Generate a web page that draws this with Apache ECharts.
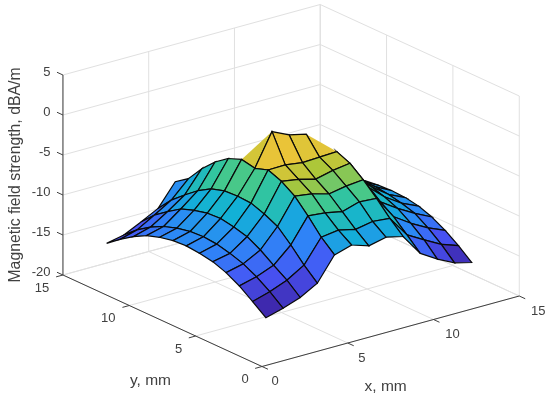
<!DOCTYPE html>
<html>
<head>
<meta charset="utf-8">
<style>html,body{margin:0;padding:0;background:#fff}#chart{width:550px;height:398px}</style>
<script src="https://cdn.jsdelivr.net/npm/echarts@6/dist/echarts.min.js"></script>
</head>
<body>
<div id="chart"></div>
<script>
// Data
var xValues = [1,2,3,4,5,6,7,8,9,10,11,12,13];
var yValues = [1,2,3,4,5,6,7,8,9,10,11,12,13];
var zAtX1  = [-15.25,-14.0,-12.8,-11.9,-11.3,-11.0,-10.85,-10.95,-11.3,-11.85,-12.75,-13.85,-15.1];
var zAtX2  = [-14.65,-13.35,-12.25,-11.4,-10.85,-10.45,-10.3,-10.4,-10.75,-11.3,-12.15,-13.25,-14.65];
var zAtX3  = [-13.9,-12.5,-11.4,-10.25,-9.35,-8.9,-8.6,-8.7,-9.1,-9.7,-10.8,-12.0,-13.6];
var zAtX4  = [-12.7,-11.2,-9.45,-7.9,-7.1,-6.5,-6.4,-6.5,-7.0,-8.0,-9.3,-10.7,-12.5];
var zAtX5  = [-9.75,-8.3,-6.4,-4.7,-3.6,-2.95,-3.5,-3.15,-3.8,-5.0,-6.6,-8.6,-9.75];
var zAtX6  = [-9.1,-8.0,-6.6,-5.0,-3.95,-2.9,0.5,null,null,null,null,null,null];
var zAtX7  = [-9.8,-8.5,-7.05,-5.6,-4.5,-3.2,-0.5,null,null,null,null,null,null];
var zAtX8  = [-9.3,-8.1,-6.4,-5.2,-4.0,-3.1,-1.0,null,null,null,null,null,null];
var zAtX9  = [-9.8,-8.3,-6.55,-5.0,-3.7,-3.0,null,null,null,null,null,null,null];
var zAtX10 = [-12.5,-10.95,-9.45,-8.35,-7.2,-6.7,-7.0,-7.2,-7.8,-8.6,-9.6,-11.1,-13.0];
var zAtX11 = [-13.8,-12.15,-10.85,-9.75,-9.05,-8.55,-8.4,-8.5,-9.0,-10.0,-11.0,-12.3,-14.0];
var zAtX12 = [-14.85,-13.3,-12.0,-10.95,-10.45,-10.1,-9.9,-10.0,-10.3,-10.9,-11.7,-13.0,-14.5];
var zAtX13 = [-15.4,-14.05,-12.9,-12.0,-11.4,-11.1,-11.0,-11.1,-11.3,-11.8,-12.7,-13.8,-15.1];
var zRows = [zAtX1,zAtX2,zAtX3,zAtX4,zAtX5,zAtX6,zAtX7,zAtX8,zAtX9,zAtX10,zAtX11,zAtX12,zAtX13];
var xTicks = [0,5,10,15];
var yTicks = [0,5,10,15];
var zTicks = [-20,-15,-10,-5,0,5];
var xTitle = 'x, mm';
var yTitle = 'y, mm';
var zTitle = 'Magnetic field strength, dBA/m';

// Oblique view of the box, expressed in the two hidden cartesian axes
var X_MAX = 15, Y_MAX = 15, Z_MIN = -20, Z_MAX = 5;
function planeU(x, y) { return 17.15 * x - 13.27 * y; }
function planeV(x, y, z) { return 4.7 * x + 6.1 * y + 8 * (z - Z_MIN); }

var parula = [[0.2422,0.1504,0.6603],[0.2810,0.3228,0.9578],[0.1786,0.5289,0.9682],[0.0689,0.6948,0.8394],
              [0.2161,0.7843,0.5923],[0.6720,0.7793,0.2227],[0.9970,0.7659,0.2199],[0.9769,0.9839,0.0805]];
var allZ = [].concat.apply([], zRows).filter(function (v) { return v !== null; });
var zLo = Math.min.apply(null, allZ), zHi = -0.2;
function faceColor(z) {
  var t = Math.max(0, Math.min(1, (z - zLo) / (zHi - zLo))) * (parula.length - 1);
  var k = Math.min(parula.length - 2, Math.floor(t)), f = t - k;
  var a = parula[k], b = parula[k + 1];
  return 'rgb(' + [0,1,2].map(function (c) { return Math.round(255 * (a[c] + (b[c] - a[c]) * f)); }).join(',') + ')';
}

// Faces back to front
var faces = [];
for (var i = xValues.length - 2; i >= 0; i--) {
  for (var j = yValues.length - 2; j >= 0; j--) {
    faces.push([i, j]);
  }
}

// Box lines: [x0,y0,z0,x1,y1,z1]
var wallLines = [];
xTicks.forEach(function (t) {
  wallLines.push([t, 0, Z_MIN, t, Y_MAX, Z_MIN]);
  wallLines.push([t, Y_MAX, Z_MIN, t, Y_MAX, Z_MAX]);
});
yTicks.forEach(function (t) {
  wallLines.push([0, t, Z_MIN, X_MAX, t, Z_MIN]);
  wallLines.push([X_MAX, t, Z_MIN, X_MAX, t, Z_MAX]);
});
zTicks.forEach(function (t) {
  wallLines.push([0, Y_MAX, t, X_MAX, Y_MAX, t]);
  wallLines.push([X_MAX, Y_MAX, t, X_MAX, 0, t]);
});

function pt(api, x, y, z) { return api.coord([planeU(x, y), planeV(x, y, z)]); }

var FONT = '"Liberation Sans", Arial, sans-serif';
var INK = '#404040';
var EDGE = '#0a0a0a';
function label(text, x, y, size, align, rotation) {
  return { type: 'text', x: x, y: y, rotation: rotation || 0, silent: true,
    style: { text: text, fill: INK, font: size + 'px ' + FONT, align: align || 'center', verticalAlign: 'middle' } };
}
function seg(a, b, color, w) {
  return { type: 'line', silent: true, shape: { x1: a[0], y1: a[1], x2: b[0], y2: b[1] }, style: { stroke: color, lineWidth: w } };
}

function renderWall(params, api) {
  var l = wallLines[api.value(0)];
  return seg(pt(api, l[0], l[1], l[2]), pt(api, l[3], l[4], l[5]), '#e0e0e0', 1);
}

function renderFace(params, api) {
  var i = api.value(0), j = api.value(1);
  var corners = [[i, j], [i + 1, j], [i + 1, j + 1], [i, j + 1]];
  var pts = [], missing = 0, missingAt = -1;
  corners.forEach(function (c, k) {
    var z = zRows[c[0]][c[1]];
    if (z === null) { missing++; missingAt = k; pts.push(null); }
    else { pts.push(pt(api, xValues[c[0]], yValues[c[1]], z)); }
  });
  if (missing > 1 || zRows[i][j] === null) { return; }
  var fill = faceColor(zRows[i][j]);
  if (missing === 0) {
    return { type: 'group', children: [
      { type: 'polygon', shape: { points: pts }, silent: true, style: { fill: fill, stroke: EDGE, lineWidth: 1.2 } }
    ] };
  }
  var run = [pts[(missingAt + 1) % 4], pts[(missingAt + 2) % 4], pts[(missingAt + 3) % 4]];
  return { type: 'group', children: [
    { type: 'polygon', shape: { points: run }, silent: true, style: { fill: fill } },
    { type: 'polyline', shape: { points: run }, silent: true, style: { fill: null, stroke: EDGE, lineWidth: 1.2 } }
  ] };
}

function renderFrame(params, api) {
  var ch = [];
  var axis = '#404040';
  ch.push(seg(pt(api, 0, 0, Z_MIN), pt(api, X_MAX, 0, Z_MIN), axis, 1));
  ch.push(seg(pt(api, 0, 0, Z_MIN), pt(api, 0, Y_MAX, Z_MIN), axis, 1));
  ch.push(seg(pt(api, 0, Y_MAX, Z_MIN), pt(api, 0, Y_MAX, Z_MAX), axis, 1));
  xTicks.forEach(function (t) {
    ch.push(seg(pt(api, t, 0, Z_MIN), pt(api, t, -0.45, Z_MIN), axis, 1));
    var p = pt(api, t, 0, Z_MIN);
    ch.push(label(String(t), p[0] + 13 + (t >= 10 ? 5 : 0) + (t > 0 ? 1 : 0), p[1] + 15, 13));
  });
  yTicks.forEach(function (t) {
    ch.push(seg(pt(api, 0, t, Z_MIN), pt(api, -0.4, t, Z_MIN), axis, 1));
    var p = pt(api, 0, t, Z_MIN);
    ch.push(label(String(t), p[0] - 17 - (t >= 10 ? 4 : 0), p[1] + 13, 13));
  });
  zTicks.forEach(function (t) {
    ch.push(seg(pt(api, 0, Y_MAX, t), pt(api, 0, Y_MAX + 0.45, t), axis, 1));
    var p = pt(api, 0, Y_MAX, t);
    ch.push(label(String(t), p[0] - 12.5, p[1] - 3, 13, 'right'));
  });
  var px = pt(api, X_MAX / 2, 0, Z_MIN);
  ch.push(label(xTitle, px[0] - 5, px[1] + 55, 15.5));
  var py = pt(api, 0, Y_MAX / 2, Z_MIN);
  ch.push(label(yTitle, py[0] - 12, py[1] + 60, 15.5));
  var pz = pt(api, 0, Y_MAX, (Z_MIN + Z_MAX) / 2);
  ch.push(label(zTitle, pz[0] - 47, pz[1], 15.8, 'center', Math.PI / 2));
  return { type: 'group', children: ch };
}

var chart = echarts.init(document.getElementById('chart'), null, { renderer: 'canvas' });
chart.setOption({
  backgroundColor: '#ffffff',
  animation: false,
  grid: { left: 0, right: 0, top: 0, bottom: 0, containLabel: false },
  xAxis: { type: 'value', min: -262, max: 288, show: false },
  yAxis: { type: 'value', min: -31.5, max: 366.5, show: false },
  series: [
    { type: 'custom', coordinateSystem: 'cartesian2d', clip: false, z: 1, silent: true,
      encode: { x: 1, y: 2 }, renderItem: renderWall,
      data: wallLines.map(function (l, k) { return [k, 0, 0]; }) },
    { type: 'custom', coordinateSystem: 'cartesian2d', clip: false, z: 2, silent: true,
      encode: { x: 2, y: 3 }, renderItem: renderFace,
      data: faces.map(function (f) { return [f[0], f[1], 0, 0]; }) },
    { type: 'custom', coordinateSystem: 'cartesian2d', clip: false, z: 3, silent: true,
      encode: { x: 0, y: 1 }, renderItem: renderFrame, data: [[0, 0]] }
  ]
});
</script>
</body>
</html>
